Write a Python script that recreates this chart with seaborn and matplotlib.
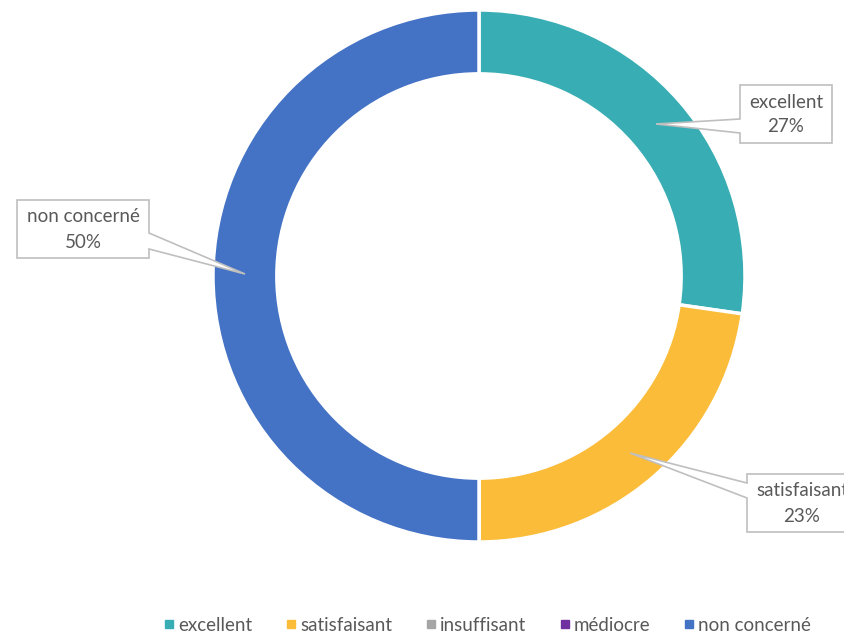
import matplotlib.pyplot as plt
import seaborn as sns
from matplotlib.lines import Line2D
from matplotlib.patches import Polygon

sns.set_theme(style="white")
plt.rcParams['font.family'] = ['Lato', 'DejaVu Sans']

categories = ["excellent", "satisfaisant", "insuffisant", "médiocre", "non concerné"]
values = [6, 5, 0, 0, 11]
colors = ["#38ADB3", "#FBBC39", "#A5A5A5", "#7030A0", "#4472C4"]

W, H = 845, 643
fig = plt.figure(figsize=(W / 100, H / 100), dpi=100)
ax = fig.add_axes([0, 0, 1, 1])

cx, cy, r = 479, 276, 266
# y axis is inverted below, so startangle 270 points up and runs clockwise
ax.pie(values, colors=colors, startangle=270, counterclock=True,
       center=(cx, cy), radius=r, frame=True,
       wedgeprops=dict(width=r * 0.24, edgecolor="white", linewidth=2.5))
ax.set_xlim(0, W)
ax.set_ylim(H, 0)
ax.set_aspect("equal")
ax.axis("off")

total = sum(values)
pct = {c: f"{round(v / total * 100)}%" for c, v in zip(categories, values)}

# callout boxes (box corners + leader tip), pixel coords
callouts = {
    "excellent": ((740, 85, 832, 143), [(740, 133), (656, 124), (740, 119)], "left"),
    "non concerné": ((17, 200, 149, 258), [(149, 233), (245, 274), (149, 249)], "right"),
    "satisfaisant": ((747, 474, 857, 532), [(747, 498), (630, 453), (747, 483)], "left"),
}
for name, (box, tip, side) in callouts.items():
    x0, y0, x1, y1 = box
    if side == "left":
        pts = [(x0, y0), (x1, y0), (x1, y1), (x0, y1)] + tip
    else:
        pts = [(x0, y0), (x1, y0)] + tip + [(x1, y1), (x0, y1)]
    ax.add_patch(Polygon(pts, closed=True, facecolor="white", edgecolor="#BFBFBF",
                         linewidth=1.2, zorder=5, clip_on=False))
    xc = (x0 + x1) / 2
    ax.text(xc, y0 + 17, name, ha="center", va="center", fontsize=13.5,
            color="#595959", zorder=6)
    ax.text(xc, y0 + 42, pct[name], ha="center", va="center", fontsize=13.5,
            color="#595959", zorder=6)

handles = [Line2D([0], [0], marker="s", linestyle="", markersize=5.5,
                  markerfacecolor=c, markeredgecolor=c) for c in colors]
fig.legend(handles, categories, loc="lower center", ncol=5, frameon=False,
           bbox_to_anchor=(0.575, -0.012), fontsize=13.5, labelcolor="#595959",
           handletextpad=0.05, columnspacing=1.6, handlelength=0.9)

fig.savefig("out.png", dpi=100)
